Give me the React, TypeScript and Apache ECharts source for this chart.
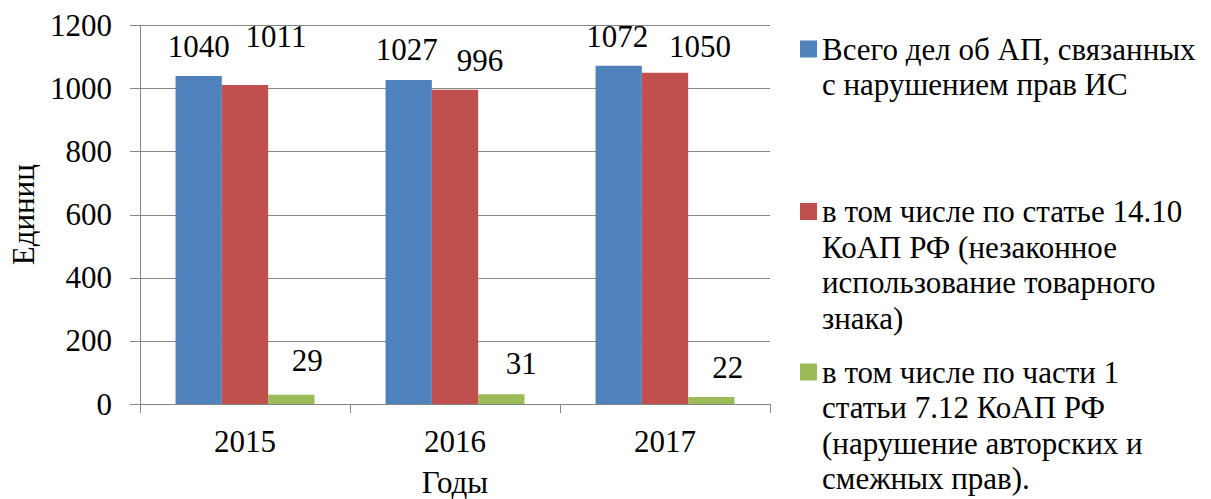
import React, { useEffect, useRef } from "react";
import * as echarts from "echarts";

const categories = ["2015", "2016", "2017"];
const seriesNames = [
  "Всего дел об АП, связанных с нарушением прав ИС",
  "в том числе по статье 14.10 КоАП РФ (незаконное использование товарного знака)",
  "в том числе по части 1 статьи 7.12 КоАП РФ (нарушение авторских и смежных прав).",
];
const legendLines = [
  ["Всего дел об АП, связанных", "с нарушением прав ИС"],
  ["в том числе по статье 14.10", "КоАП РФ (незаконное", "использование товарного", "знака)"],
  ["в том числе по части 1", "статьи 7.12 КоАП РФ", "(нарушение авторских и", "смежных прав)."],
];
const totalCases = [1040, 1027, 1072];
const article1410 = [1011, 996, 1050];
const article712 = [29, 31, 22];
const seriesValues = [totalCases, article1410, article712];
const colors = ["#4F81BD", "#C0504D", "#9BBB59"];
const yMin = 0;
const yMax = 1200;
const yInterval = 200;
const yAxisName = "Единиц";
const xAxisName = "Годы";

// label placement tweaks (presentation only)
const labelOffsets = [
  [[0, -8.5], [-2, -9.6], [-1.5, -8.7]],
  [[31, -27.7], [25, -8.4], [35, -5.7]],
  [[16, -13.8], [20, -10], [16.5, -9.5]],
];

const FONT = "Liberation Serif";
const FS = 31;
const LH = 35.5;
const legendIconCenters = [49, 211.5, 372];

export default function App() {
  const ref = useRef<HTMLDivElement>(null);
  useEffect(() => {
    document.body.style.margin = "0";
    const chart = echarts.init(ref.current!, null, { renderer: "svg" });
    const legends = seriesNames.map((name, i) => {
      const n = legendLines[i].length;
      const pad = new Array(n - 1).fill(" ").join("\n");
      return {
        type: "plain",
        orient: "vertical",
        left: 800,
        top: legendIconCenters[i] - ((2 * n - 1) * LH) / 2,
        padding: 0,
        itemWidth: 17,
        itemHeight: 17,
        icon: "rect",
        selectedMode: false,
        data: [name],
        formatter: () => pad + "\n" + legendLines[i].join("\n"),
        textStyle: {
          fontFamily: FONT,
          fontSize: FS,
          lineHeight: LH,
          color: "#000",
        },
      };
    });
    chart.setOption({
      animation: false,
      backgroundColor: "#fff",
      textStyle: { fontFamily: FONT },
      grid: {
        left: 140,
        right: 441,
        top: 25.5,
        bottom: 95,
        containLabel: false,
        outerBoundsMode: "none",
      },
      legend: legends,
      xAxis: {
        type: "category",
        data: categories,
        name: xAxisName,
        nameLocation: "middle",
        nameGap: 63,
        nameTextStyle: { fontFamily: FONT, fontSize: FS, color: "#000" },
        axisLine: { lineStyle: { color: "#868686", width: 1 } },
        axisTick: { show: true, length: 9, lineStyle: { color: "#868686" } },
        axisLabel: { fontFamily: FONT, fontSize: FS, color: "#000", margin: 22 },
      },
      yAxis: {
        type: "value",
        min: yMin,
        max: yMax,
        interval: yInterval,
        name: yAxisName,
        nameLocation: "middle",
        nameGap: 100,
        nameTextStyle: { fontFamily: FONT, fontSize: FS, color: "#000" },
        axisLine: { show: true, lineStyle: { color: "#868686", width: 1 } },
        axisTick: { show: true, length: 10, lineStyle: { color: "#868686" } },
        axisLabel: {
          fontFamily: FONT,
          fontSize: FS,
          color: "#000",
          margin: 28,
          formatter: (v: number) => String(v),
        },
        splitLine: { lineStyle: { color: "#868686", width: 1 } },
      },
      series: seriesNames.map((name, i) => ({
        type: "bar",
        name,
        barWidth: 46.3,
        barGap: "0%",
        itemStyle: { color: colors[i] },
        label: {
          show: true,
          position: "top",
          distance: 5,
          fontFamily: FONT,
          fontSize: FS,
          color: "#000",
        },
        data: seriesValues[i].map((v, j) => ({
          value: v,
          label: { offset: labelOffsets[i][j] },
        })),
      })),
    });
    return () => chart.dispose();
  }, []);
  return (
    <div
      ref={ref}
      style={{ position: "absolute", left: 0, top: 0, width: 1211, height: 499 }}
    />
  );
}
